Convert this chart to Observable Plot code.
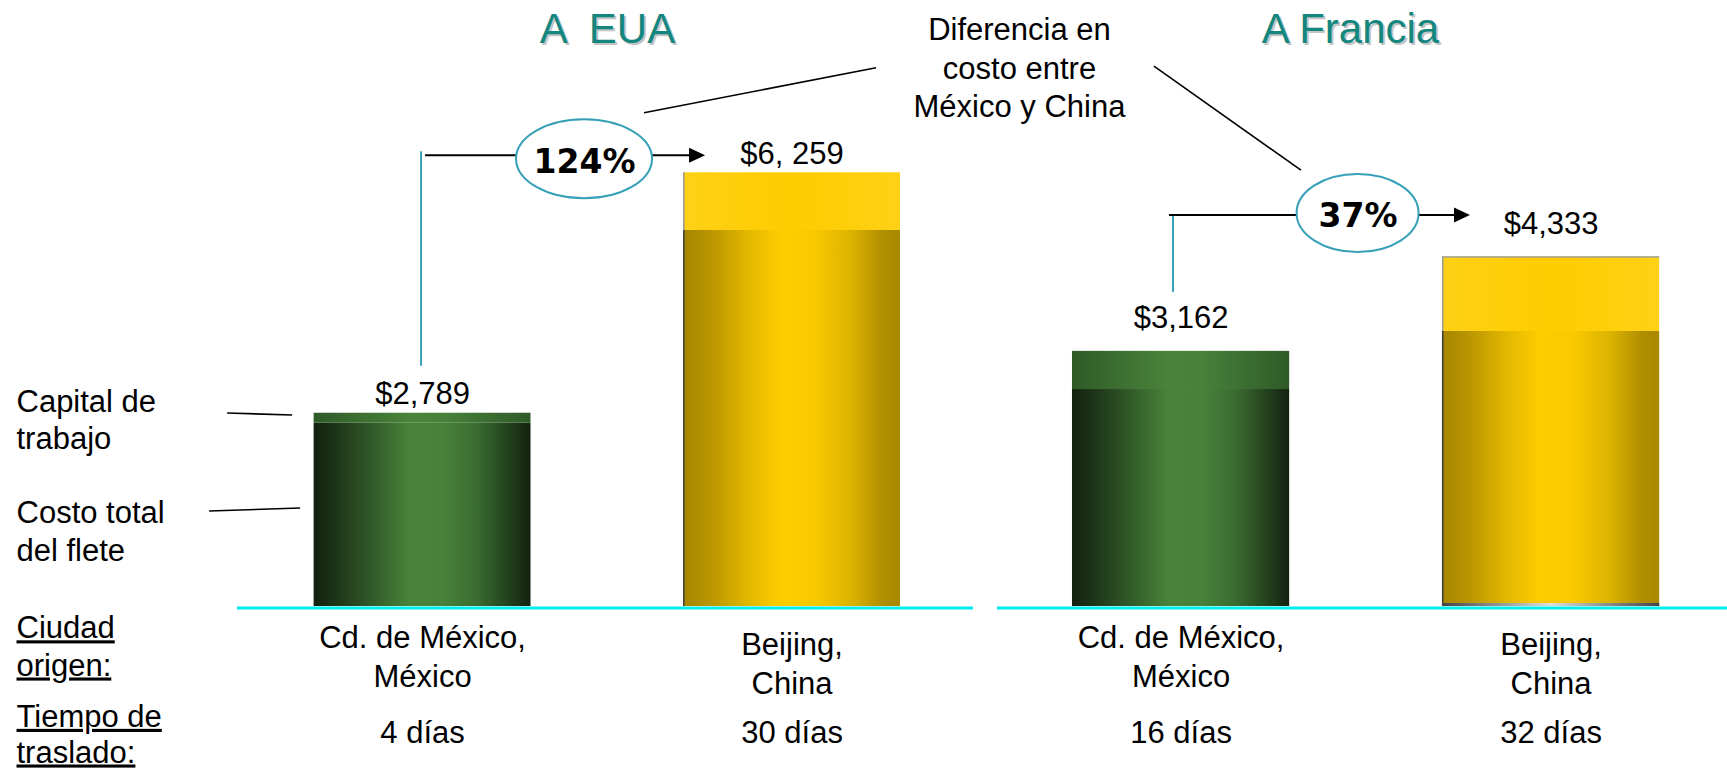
<!DOCTYPE html>
<html>
<head>
<meta charset="utf-8">
<script src="https://cdn.jsdelivr.net/npm/d3@7"></script>
<script src="https://cdn.jsdelivr.net/npm/@observablehq/plot@0.6"></script>
<style>
  html, body { margin: 0; padding: 0; background: #ffffff; }
  #chart { position: relative; width: 1727px; height: 770px; overflow: hidden; }
  #chart svg { position: absolute; left: 0; top: 0; }
</style>
</head>
<body>
<div id="chart"></div>
<script>
// ---------------- data ----------------
const destinations = ["A  EUA", "A Francia"];
const origins = ["Cd. de México,\nMéxico", "Beijing,\nChina"];
const components = ["Costo total del flete", "Capital de trabajo"];
const componentLabels = ["Costo total\ndel flete", "Capital de\ntrabajo"];
const rowHeaders = ["Ciudad\norigen:", "Tiempo de\ntraslado:"];
const diffNote = "Diferencia en\ncosto entre\nMéxico y China";

const euaFreight = [2645, 5426];
const euaCapital = [144, 833];
const euaTotals = [2789, 6259];
const euaTotalLabels = ["$2,789", "$6, 259"];
const euaDays = ["4 días", "30 días"];
const euaDiff = "124%";

const frFreight = [2689, 3408];
const frCapital = [473, 925];
const frTotals = [3162, 4333];
const frTotalLabels = ["$3,162", "$4,333"];
const frDays = ["16 días", "32 días"];
const frDiff = "37%";

// ---------------- styling ----------------
const FONT = "'Liberation Sans', Arial, Helvetica, sans-serif";
const TEAL_TITLE = "#13877f";
const TEAL_LINE = "#35a0b8";
const CYAN = "#00eeee";
const W = 1727, H = 770, BASE = 606;

function defs(id) {
  return () => {
    const d = d3.create("svg:defs");
    const grads = {
      gLow: [[0, "#12200e"], [0.1, "#1c3417"], [0.25, "#2f5628"], [0.45, "#4a843a"], [0.6, "#47813a"], [0.75, "#3b6c31"], [0.9, "#22401d"], [1, "#13220f"]],
      gTop: [[0, "#2f5a28"], [0.45, "#4a843a"], [0.6, "#47813a"], [1, "#2f5a28"]],
      yLow: [[0, "#a68600"], [0.12, "#b89400"], [0.3, "#e2b800"], [0.45, "#ffcc00"], [0.6, "#fbc900"], [0.78, "#dab200"], [0.92, "#b08e00"], [1, "#a88800"]],
      yTop: [[0, "#fed116"], [0.5, "#ffcc00"], [1, "#fed116"]],
      gray: [[0, "#444444"], [0.5, "#dddddd"], [1, "#444444"]]
    };
    for (const [k, stops] of Object.entries(grads)) {
      const g = d.append("linearGradient").attr("id", `${id}-${k}`)
        .attr("x1", 0).attr("x2", 1).attr("y1", 0).attr("y2", 0);
      for (const [o, c] of stops) g.append("stop").attr("offset", o).attr("stop-color", c);
    }
    return d.node();
  };
}

function annotation(p) {
  return (index, scales) => {
    const {x, y} = scales;
    const bw = x.bandwidth ? x.bandwidth() : 0;
    const mx = x(origins[0]), cn = x(origins[1]);
    const yMx = y(p.totals[0]), yCn = y(p.totals[1]), y0 = y(0);
    const ySplit = y(p.freight[1]);
    const a = p.ann;
    const g = d3.create("svg:g");
    const lineY = yCn + a.lineDy;
    const vx = mx + bw / 2 + a.vDx;
    const cx = cn + bw / 2 + a.pctDx;
    const cy = yCn + a.pctDy - 14;
    const tip = cn + a.tipDx;
    // edges of the China bar
    g.append("line").attr("x1", cn + 0.75).attr("x2", cn + 0.75).attr("y1", yCn).attr("y2", ySplit)
      .attr("stroke", "#9a9a9a").attr("stroke-width", 1.5);
    g.append("line").attr("x1", cn + 0.75).attr("x2", cn + 0.75).attr("y1", ySplit).attr("y2", y0)
      .attr("stroke", "#3c3c3c").attr("stroke-width", 1.5);
    if (a.topEdge) {
      g.append("line").attr("x1", cn).attr("x2", cn + bw).attr("y1", yCn + 0.75).attr("y2", yCn + 0.75)
        .attr("stroke", "#a0a0a0").attr("stroke-width", 1.5);
      g.append("rect").attr("x", cn).attr("width", bw).attr("y", y0 - 3).attr("height", 3)
        .attr("fill", `url(#${p.id}-gray)`);
    }
    // vertical teal connector
    g.append("line").attr("x1", vx).attr("x2", vx)
      .attr("y1", yMx + a.vBottom).attr("y2", lineY + a.vTop)
      .attr("stroke", TEAL_LINE).attr("stroke-width", 2);
    // black horizontal to the ellipse
    g.append("line").attr("x1", vx + a.hStart).attr("x2", cx - a.rx)
      .attr("y1", lineY).attr("y2", lineY).attr("stroke", "#000").attr("stroke-width", 2);
    // arrow after the ellipse
    g.append("line").attr("x1", cx + a.rx).attr("x2", tip - 12)
      .attr("y1", lineY).attr("y2", lineY).attr("stroke", "#000").attr("stroke-width", 2);
    g.append("path").attr("d", `M${tip},${lineY}L${tip - 16},${lineY - 7.5}L${tip - 16},${lineY + 7.5}Z`).attr("fill", "#000");
    // leader from the note
    g.append("line")
      .attr("x1", cx + a.leader[0][0]).attr("y1", cy + a.leader[0][1])
      .attr("x2", cx + a.leader[1][0]).attr("y2", cy + a.leader[1][1])
      .attr("stroke", "#000").attr("stroke-width", 1.6);
    // ellipse
    g.append("ellipse").attr("cx", cx).attr("cy", cy).attr("rx", a.rx).attr("ry", a.ry)
      .attr("fill", "#fff").attr("stroke", TEAL_LINE).attr("stroke-width", 2);
    // legend leader lines
    if (a.legend) {
      for (const l of a.legend) {
        const ref = l.ref === "top" ? yMx : y0;
        g.append("line")
          .attr("x1", mx + l.x1).attr("y1", ref + l.y1)
          .attr("x2", mx + l.x2).attr("y2", ref + l.y2)
          .attr("stroke", "#000").attr("stroke-width", 1.6);
      }
    }
    return g.node();
  };
}

function panel(p) {
  const rows = [];
  origins.forEach((o, i) => {
    const pre = i === 0 ? "g" : "y";
    rows.push({origin: o, component: components[0], value: p.freight[i], fill: `url(#${p.id}-${pre}Low)`});
    rows.push({origin: o, component: components[1], value: p.capital[i], fill: `url(#${p.id}-${pre}Top)`});
  });
  const tops = origins.map((o, i) => ({origin: o, total: p.totals[i], label: p.totalLabels[i], days: p.days[i], idx: i}));

  const marks = [
    defs(p.id),
    Plot.barY(rows, {x: "origin", y: "value", fill: "fill"}),
    Plot.ruleY([0], {stroke: CYAN, strokeWidth: 3, dy: 1.5}),
    annotation(p),
    Plot.text(tops, {x: "origin", y: "total", text: "label", lineAnchor: "bottom", dy: p.labelDy, fontSize: 31, fill: "#000"}),
    Plot.text(tops, {filter: d => d.idx === 0, x: "origin", frameAnchor: "bottom", text: "origin", lineAnchor: "bottom", lineHeight: 1.23, dy: 80, fontSize: 31, fill: "#000"}),
    Plot.text(tops, {filter: d => d.idx === 1, x: "origin", frameAnchor: "bottom", text: "origin", lineAnchor: "bottom", lineHeight: 1.23, dy: 87, fontSize: 31, fill: "#000"}),
    Plot.text(tops, {x: "origin", frameAnchor: "bottom", text: "days", lineAnchor: "bottom", dy: 136, fontSize: 31, fill: "#000"}),
    Plot.text(tops, {filter: d => d.idx === 1, x: "origin", y: "total", text: () => p.diff, lineAnchor: "bottom", dx: p.ann.pctDx, dy: p.ann.pctDy, fontSize: 33, fontWeight: "bold", fontFamily: "'DejaVu Sans', Verdana, sans-serif", fill: "#000"}),
    Plot.text([p.title], {text: d => d, frameAnchor: "top", lineAnchor: "top", dx: p.titleDx + 2, dy: 15, fontSize: 42, fill: "#c4c4c4"}),
    Plot.text([p.title], {text: d => d, frameAnchor: "top", lineAnchor: "top", dx: p.titleDx, dy: 13, fontSize: 42, fill: TEAL_TITLE})
  ];
  if (p.extra) marks.push(...p.extra);

  return Plot.plot({
    width: W, height: H,
    marginTop: 0, marginBottom: H - BASE,
    marginLeft: p.frame[0], marginRight: W - p.frame[1],
    x: {domain: origins, axis: null, paddingInner: 0.413, paddingOuter: p.po, align: p.align, round: false},
    y: {domain: [0, p.ymax], axis: null},
    color: {type: "identity"},
    style: {fontFamily: FONT, fontSize: "31px", background: "none", overflow: "visible", color: "#000"},
    marks
  });
}

const eua = panel({
  id: "eua", title: destinations[0], diff: euaDiff,
  freight: euaFreight, capital: euaCapital, totals: euaTotals, totalLabels: euaTotalLabels, days: euaDays,
  frame: [237, 973], po: 0.2025, align: 0.512, ymax: 8745, labelDy: -9, titleDx: 2,
  ann: {lineDy: -17, vDx: -1, vBottom: -47, vTop: -4, hStart: 4, pctDx: -207.5, pctDy: 0.5, rx: 68, ry: 39.5, tipDx: 22,
        leader: [[60, -46], [292, -91]],
        legend: [{ref: "top", x1: -86.5, y1: 0.3, x2: -21.5, y2: 2.3}, {ref: "base", x1: -104.5, y1: -95, x2: -13.5, y2: -98}]},
  extra: [
    Plot.text([componentLabels[1]], {text: d => d, frameAnchor: "bottom-left", textAnchor: "start", lineAnchor: "bottom", lineHeight: 1.19, dx: -221, dy: -158, fontSize: 31, fill: "#000"}),
    Plot.text([componentLabels[0]], {text: d => d, frameAnchor: "bottom-left", textAnchor: "start", lineAnchor: "bottom", lineHeight: 1.21, dx: -221, dy: -46, fontSize: 31, fill: "#000"}),
    Plot.text([rowHeaders[0]], {text: d => d, frameAnchor: "bottom-left", textAnchor: "start", lineAnchor: "bottom", lineHeight: 1.2, dx: -221, dy: 69, fontSize: 31, fill: "#000"}),
    Plot.text([rowHeaders[1]], {text: d => d, frameAnchor: "bottom-left", textAnchor: "start", lineAnchor: "bottom", lineHeight: 1.15, dx: -221, dy: 156, fontSize: 31, fill: "#000"})
  ]
});

const fr = panel({
  id: "fr", title: destinations[1], diff: frDiff,
  freight: frFreight, capital: frCapital, totals: frTotals, totalLabels: frTotalLabels, days: frDays,
  frame: [997, 1727], po: 0.193, align: 0.525, ymax: 7510, labelDy: -23, titleDx: -12,
  ann: {lineDy: -41.4, vDx: -7.6, vBottom: -59, vTop: 0, hStart: -4, pctDx: -193, pctDy: -29.4, rx: 61, ry: 39, tipDx: 28,
        topEdge: true,
        leader: [[-203.6, -146.8], [-56.6, -42.8]]},
  extra: [
    Plot.text([diffNote], {text: d => d, frameAnchor: "top-left", textAnchor: "middle", lineAnchor: "top", lineHeight: 1.24, dx: 22, dy: 12.7, fontSize: 31, fill: "#000"})
  ]
});

const chart = document.getElementById("chart");
chart.appendChild(eua);
chart.appendChild(fr);

// underline the row headers
d3.select(eua).selectAll("text").filter(function () {
  return /Ciudad|Tiempo/.test(this.textContent);
}).style("text-decoration", "underline");
</script>
</body>
</html>
